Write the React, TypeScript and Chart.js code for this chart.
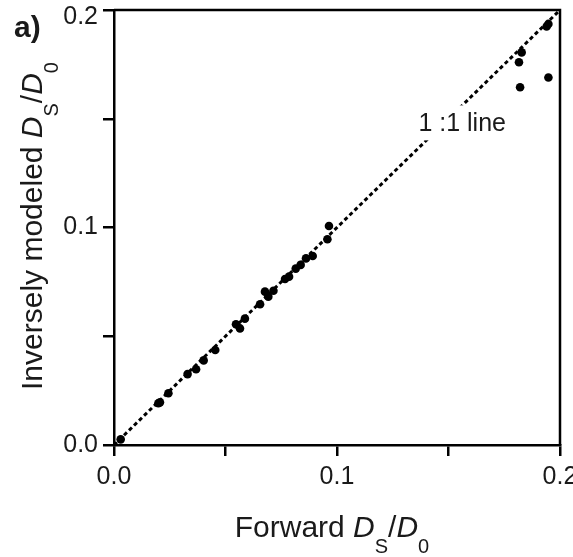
import React, { useEffect, useRef } from "react";
import { Chart, registerables } from "chart.js";

Chart.register(...registerables);

const forwardValues = [
  0.003, 0.0199, 0.0206, 0.0244, 0.033, 0.0368, 0.0402, 0.0454, 0.0547, 0.0565,
  0.0587, 0.0655, 0.0677, 0.0692, 0.0715, 0.0767, 0.0785, 0.0815, 0.0837, 0.0861,
  0.0891, 0.0957, 0.0964, 0.1948, 0.194, 0.1828, 0.1816, 0.1821, 0.1948,
];
const inverseValues = [
  0.0026, 0.0192, 0.0196, 0.0238, 0.0326, 0.0348, 0.0389, 0.0437, 0.0555, 0.0536,
  0.0581, 0.0647, 0.0705, 0.0682, 0.0709, 0.0763, 0.0774, 0.0811, 0.0828, 0.0858,
  0.0869, 0.0946, 0.1007, 0.1936, 0.1924, 0.1805, 0.176, 0.1645, 0.169,
];
const oneToOne = [0, 0.2];
const tickValues = [0, 0.05, 0.1, 0.15, 0.2];
const tickLabels = ["0.0", "", "0.1", "", "0.2"];

const FONT = "'Liberation Sans', Arial, Helvetica, sans-serif";
const INK = "#1a1a1a";

type Seg = { t: string; italic?: boolean; sub?: boolean };

const yTitle: Seg[] = [
  { t: "Inversely modeled " },
  { t: "D", italic: true },
  { t: "S", sub: true },
  { t: "/" },
  { t: "D", italic: true },
  { t: "0", sub: true },
];
const xTitle: Seg[] = [
  { t: "Forward " },
  { t: "D", italic: true },
  { t: "S", sub: true },
  { t: "/" },
  { t: "D", italic: true },
  { t: "0", sub: true },
];

function segFont(s: Seg) {
  const size = s.sub ? 20 : 30;
  return `${s.italic ? "italic " : ""}${size}px ${FONT}`;
}

function drawRich(ctx: CanvasRenderingContext2D, segs: Seg[], x: number, y: number, rotate: boolean) {
  ctx.save();
  ctx.translate(x, y);
  if (rotate) ctx.rotate(-Math.PI / 2);
  let total = 0;
  for (const s of segs) {
    ctx.font = segFont(s);
    total += ctx.measureText(s.t).width;
  }
  let cx = -total / 2;
  ctx.fillStyle = INK;
  ctx.textBaseline = "alphabetic";
  ctx.textAlign = "left";
  for (const s of segs) {
    ctx.font = segFont(s);
    ctx.fillText(s.t, cx, s.sub ? 16 : 0);
    cx += ctx.measureText(s.t).width;
  }
  ctx.restore();
}

const decorPlugin = {
  id: "decor",
  afterDraw(chart: any) {
    const ctx: CanvasRenderingContext2D = chart.ctx;
    const { left, right, top, bottom } = chart.chartArea;
    ctx.save();
    ctx.strokeStyle = "#000";
    ctx.lineWidth = 2.5;
    ctx.beginPath();
    ctx.moveTo(left, top);
    ctx.lineTo(right, top);
    ctx.lineTo(right, bottom);
    ctx.stroke();
    const xs = chart.scales.x;
    const ys = chart.scales.y;
    // top y tick label, nudged down so it is not cut off
    ctx.fillStyle = INK;
    ctx.font = `25px ${FONT}`;
    ctx.textAlign = "right";
    ctx.textBaseline = "middle";
    ctx.fillText(tickLabels[4], left - 16, ys.getPixelForValue(tickValues[4]) + 7);
    // "1 :1 line" label with white background
    const lx = xs.getPixelForValue(0.1365);
    const ly = ys.getPixelForValue(0.1442);
    ctx.font = `25px ${FONT}`;
    const w = ctx.measureText("1 :1 line").width;
    ctx.fillStyle = "#fff";
    ctx.fillRect(lx - 3, ly - 26, w + 6, 35);
    ctx.fillStyle = INK;
    ctx.textAlign = "left";
    ctx.textBaseline = "alphabetic";
    ctx.fillText("1 :1 line", lx, ly);
    // panel label
    ctx.font = `bold 30px ${FONT}`;
    ctx.fillText("a)", 14, 37);
    ctx.restore();
    drawRich(ctx, xTitle, 332, 537, false);
    drawRich(ctx, yTitle, 42, 226, true);
  },
};

export default function App() {
  const ref = useRef<HTMLCanvasElement | null>(null);
  useEffect(() => {
    document.body.style.margin = "0";
    const canvas = ref.current;
    if (!canvas) return;
    const points = forwardValues.map((x, i) => ({ x, y: inverseValues[i] }));
    const line = oneToOne.map((v) => ({ x: v, y: v }));
    const axisCommon = (isY: boolean) => ({
      type: "linear" as const,
      min: 0,
      max: 0.2,
      afterBuildTicks: (scale: any) => {
        scale.ticks = tickValues.map((v) => ({ value: v }));
      },
      afterFit: (scale: any) => {
        if (isY) {
          scale.width = 114;
          scale.paddingTop = 0;
          scale.paddingBottom = 0;
        } else {
          scale.height = 112;
          scale.paddingLeft = 0;
          scale.paddingRight = 0;
        }
      },
      border: { display: true, color: "#000", width: 2.5 },
      grid: {
        display: true,
        drawOnChartArea: false,
        drawTicks: true,
        tickLength: 11,
        color: "#000",
        lineWidth: 2.5,
      },
      ticks: {
        autoSkip: false,
        maxRotation: 0,
        color: INK,
        padding: isY ? 5 : 6,
        font: { family: FONT, size: 25 },
        callback: (_v: any, i: number) => (isY && i === 4 ? "" : tickLabels[i]),
      },
    });
    const chart = new Chart(canvas, {
      type: "scatter",
      data: {
        datasets: [
          {
            type: "line",
            data: line,
            borderColor: "#000",
            borderWidth: 3,
            borderDash: [4, 3],
            pointRadius: 0,
            fill: false,
            order: 2,
          } as any,
          {
            type: "scatter",
            data: points,
            backgroundColor: "#000",
            borderColor: "#000",
            pointRadius: 4.3,
            borderWidth: 0,
            order: 1,
          },
        ],
      },
      options: {
        responsive: false,
        animation: false,
        devicePixelRatio: 1,
        layout: { padding: { left: 0, top: 10, right: 13, bottom: 0 } },
        plugins: { legend: { display: false }, tooltip: { enabled: false }, title: { display: false } },
        scales: {
          x: { ...axisCommon(false), position: "bottom" },
          y: { ...axisCommon(true), position: "left" },
        },
      } as any,
      plugins: [decorPlugin],
    });
    return () => chart.destroy();
  }, []);
  return <canvas ref={ref} width={573} height={557} style={{ display: "block" }} />;
}
